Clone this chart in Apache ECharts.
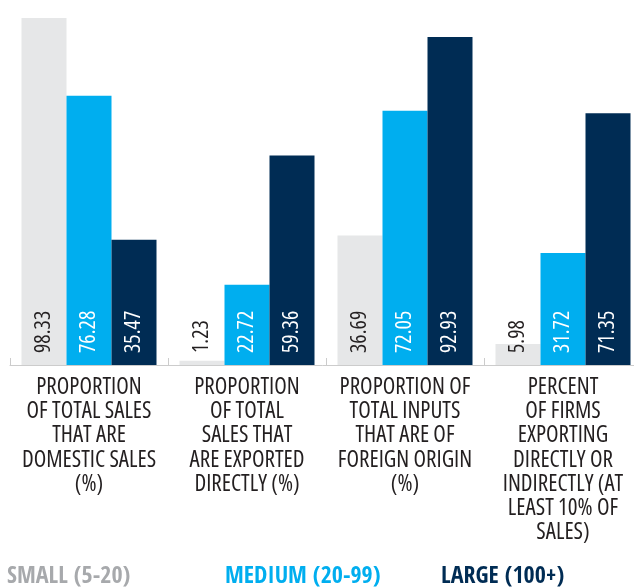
<!DOCTYPE html>
<html><head><meta charset="utf-8">
<script src="https://cdn.jsdelivr.net/npm/echarts@6/dist/echarts.min.js"></script>
<style>html,body{margin:0;padding:0;background:#fff}#c{width:634px;height:587px}</style>
</head><body><div id="c"></div>
<script>
var categories = [
  "PROPORTION\nOF TOTAL SALES\nTHAT ARE\nDOMESTIC SALES\n(%)",
  "PROPORTION\nOF TOTAL\nSALES THAT\nARE EXPORTED\nDIRECTLY (%)",
  "PROPORTION OF\nTOTAL INPUTS\nTHAT ARE OF\nFOREIGN ORIGIN\n(%)",
  "PERCENT\nOF FIRMS\nEXPORTING\nDIRECTLY OR\nINDIRECTLY (AT\nLEAST 10% OF\nSALES)"
];
var seriesNames = ["SMALL (5-20)", "MEDIUM (20-99)", "LARGE (100+)"];
var small = [98.33, 1.23, 36.69, 5.98];
var medium = [76.28, 22.72, 72.05, 31.72];
var large = [35.47, 59.36, 92.93, 71.35];

var FONT = '"Open Sans", sans-serif';
var LEGEND_FONT = '"Open Sans Condensed", "Open Sans", sans-serif';
var colors = ["#e6e7e8", "#00aeef", "#002c54"];
var legendColors = ["#a7a9ac", "#00aeef", "#002c54"];
var labelColors = ["#231f20", "#ffffff", "#ffffff"];
var data = [small, medium, large];

function mkSeries(i) {
  return {
    name: seriesNames[i], type: "bar", data: data[i],
    barWidth: 45, barGap: "0%",
    itemStyle: { color: colors[i] },
    label: {
      show: true, position: "insideBottom", rotate: 90,
      align: "left", verticalAlign: "middle", distance: 12,
      color: labelColors[i], fontFamily: FONT, fontStyle: "condensed", fontSize: 22,
      formatter: function (p) { return p.value.toFixed(2); }
    }
  };
}
function mkLegend(i, left) {
  return {
    left: left, top: 565, icon: "none", itemWidth: 0, itemGap: 0, padding: 0,
    selectedMode: false,
    data: [{ name: seriesNames[i], textStyle: { color: legendColors[i] } }],
    textStyle: { fontFamily: LEGEND_FONT, fontSize: 24, fontWeight: "bold", padding: 0 }
  };
}
var chart = echarts.init(document.getElementById("c"), null, { renderer: "canvas" });
chart.setOption({
  animation: false,
  grid: { left: 10, top: 12, width: 632, height: 353, containLabel: false, outerBoundsMode: "none" },
  legend: [mkLegend(0, 2), mkLegend(1, 220), mkLegend(2, 436)],
  xAxis: {
    type: "category", data: categories,
    axisLine: { lineStyle: { color: "#cccccc", width: 1 } },
    axisTick: { show: true, inside: true, length: 7, lineStyle: { color: "#cccccc" } },
    axisLabel: {
      interval: 0, margin: 10, color: "#231f20", fontFamily: FONT, fontStyle: "condensed",
      fontSize: 23, lineHeight: 24.3, align: "center"
    }
  },
  yAxis: {
    type: "value", min: 0, max: 100, show: false, splitLine: { show: false }
  },
  series: [mkSeries(0), mkSeries(1), mkSeries(2)]
});
</script></body></html>
